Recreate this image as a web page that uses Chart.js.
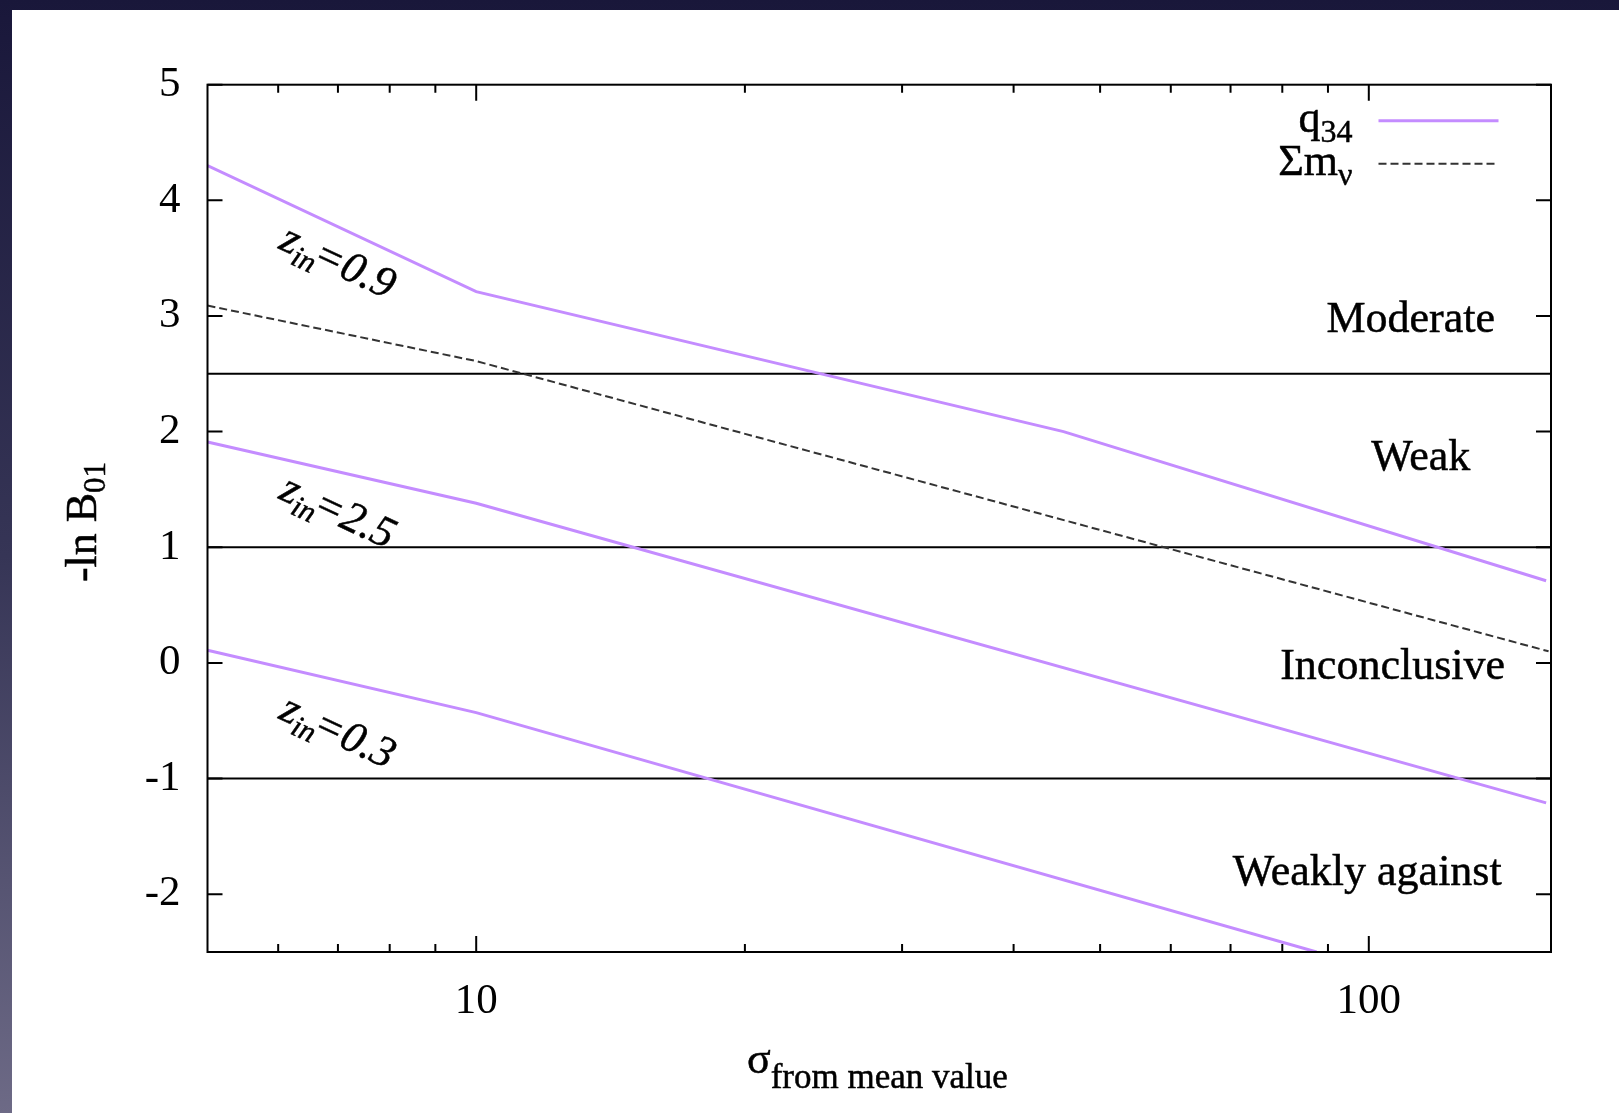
<!DOCTYPE html>
<html>
<head>
<meta charset="utf-8">
<script src="https://cdn.jsdelivr.net/npm/chart.js@4.4.1/dist/chart.umd.min.js"></script>
<style>
  html, body { margin: 0; padding: 0; }
  body {
    width: 1619px; height: 1113px; overflow: hidden; position: relative;
    background: linear-gradient(to bottom, #19173a 0%, #363556 50%, #6d6a86 100%);
  }
  #wrap { position: absolute; left: 12px; top: 10px; width: 1607px; height: 1103px; background: #fff; }
</style>
</head>
<body>
<div id="wrap"><canvas id="chart"></canvas></div>
<script>
// q34 curves, one per z_in
const z09X = [5, 10, 45.5, 158];
const z09Y = [4.30, 3.21, 2.00, 0.71];
const z25X = [5, 10, 158];
const z25Y = [1.91, 1.38, -1.21];
const z03X = [5, 10, 87.4];
const z03Y = [0.11, -0.43, -2.5];
// sum of neutrino masses
const mnuX = [5, 10, 159];
const mnuY = [3.09, 2.61, 0.10];
// Jeffreys scale boundaries
const thresholds = [2.5, 1, -1];

const yTicks = [-2, -1, 0, 1, 2, 3, 4, 5];
const xTicks = [10, 100];
const xMinor = [6, 7, 8, 9, 20, 30, 40, 50, 60, 70, 80, 90];

const regionNames = ['Moderate', 'Weak', 'Inconclusive', 'Weakly against'];
const zNames = ['0.9', '2.5', '0.3'];

// where the texts sit (x value of right edge / centre, y value of baseline / centre)
const regionPos = [[138.5, 2.865], [129.9, 1.671], [142.1, -0.139], [140.9, -1.917]];
const zPos = [[7.0, 3.468], [7.0, 1.307], [7.0, -0.595]];

const FONT = "'Liberation Serif', 'Times New Roman', serif";
const purple = '#c48cff';

function pts(xs, ys) {
  return xs.map(function(x, i) { return {x: x, y: ys[i]}; });
}

function font(p) {
  return (p.italic ? 'italic ' : '') + p.size + 'px ' + FONT;
}

// draws text made of pieces (for subscripts)
function drawParts(ctx, parts, x, y, align) {
  let w = 0;
  parts.forEach(function(p) {
    ctx.font = font(p);
    p.w = ctx.measureText(p.t).width + (p.gap || 0);
    w += p.w;
  });
  let cx = x;
  if (align === 'right') cx = x - w;
  if (align === 'center') cx = x - w / 2;
  ctx.textAlign = 'left';
  ctx.textBaseline = 'alphabetic';
  ctx.lineWidth = 0.5;
  ctx.strokeStyle = ctx.fillStyle;
  parts.forEach(function(p) {
    ctx.font = font(p);
    ctx.fillText(p.t, cx, y + (p.dy || 0));
    ctx.strokeText(p.t, cx, y + (p.dy || 0));
    cx += p.w;
  });
}

const decor = {
  id: 'decor',
  afterDraw: function(chart) {
    const ctx = chart.ctx;
    const a = chart.chartArea;
    const xs = chart.scales.x, ys = chart.scales.y;
    ctx.save();
    ctx.strokeStyle = '#000';
    ctx.fillStyle = '#000';

    // tick marks, inward, on all four sides
    ctx.lineWidth = 2;
    ctx.beginPath();
    yTicks.forEach(function(v) {
      const py = ys.getPixelForValue(v);
      ctx.moveTo(a.left, py); ctx.lineTo(a.left + 15, py);
      ctx.moveTo(a.right, py); ctx.lineTo(a.right - 15, py);
    });
    xTicks.forEach(function(v) {
      const px = xs.getPixelForValue(v);
      ctx.moveTo(px, a.bottom); ctx.lineTo(px, a.bottom - 16);
      ctx.moveTo(px, a.top); ctx.lineTo(px, a.top + 16);
    });
    xMinor.forEach(function(v) {
      const px = xs.getPixelForValue(v);
      ctx.moveTo(px, a.bottom); ctx.lineTo(px, a.bottom - 8);
      ctx.moveTo(px, a.top); ctx.lineTo(px, a.top + 8);
    });
    ctx.stroke();

    // frame
    ctx.lineWidth = 2;
    ctx.strokeRect(a.left, a.top, a.right - a.left, a.bottom - a.top);

    // region names
    regionNames.forEach(function(name, i) {
      const px = xs.getPixelForValue(regionPos[i][0]);
      const py = ys.getPixelForValue(regionPos[i][1]);
      drawParts(ctx, [{t: name, size: 44}], px, py, 'right');
    });

    // z_in labels, tilted along the curves
    zNames.forEach(function(z, i) {
      const px = xs.getPixelForValue(zPos[i][0]);
      const py = ys.getPixelForValue(zPos[i][1]);
      ctx.save();
      ctx.translate(px, py);
      ctx.rotate(25 * Math.PI / 180);
      drawParts(ctx, [
        {t: 'z', size: 44, italic: true},
        {t: 'in', size: 30, italic: true, dy: 9, gap: -4},
        {t: '=' + z, size: 44, italic: true}
      ], 0, 13, 'center');
      ctx.restore();
    });

    // legend
    const lx = a.left + 1145, lx1 = lx + 26, lx2 = lx + 146;
    drawParts(ctx, [{t: 'q', size: 44}, {t: '34', size: 32, dy: 10}], lx, a.top + 47, 'right');
    drawParts(ctx, [{t: '\u03A3m', size: 44}, {t: '\u03BD', size: 32, dy: 10}], lx, a.top + 90, 'right');
    ctx.lineWidth = 3;
    ctx.strokeStyle = purple;
    ctx.beginPath(); ctx.moveTo(lx1, a.top + 36); ctx.lineTo(lx2, a.top + 36); ctx.stroke();
    ctx.lineWidth = 2;
    ctx.strokeStyle = '#333';
    ctx.setLineDash([8, 4]);
    ctx.beginPath(); ctx.moveTo(lx1, a.top + 79); ctx.lineTo(lx2, a.top + 79); ctx.stroke();
    ctx.setLineDash([]);

    // axis titles
    ctx.fillStyle = '#000';
    drawParts(ctx, [{t: '\u03C3', size: 44}, {t: 'from mean value', size: 35, dy: 15}], 735, 1063, 'left');
    ctx.save();
    ctx.translate(71, 512);
    ctx.rotate(-Math.PI / 2);
    drawParts(ctx, [{t: '-ln B', size: 44}, {t: '01', size: 31, dy: 9}], 0, 13, 'center');
    ctx.restore();

    ctx.restore();
  }
};

const datasets = [
  {data: pts(z09X, z09Y), borderColor: purple, borderWidth: 3},
  {data: pts(z25X, z25Y), borderColor: purple, borderWidth: 3},
  {data: pts(z03X, z03Y), borderColor: purple, borderWidth: 3},
  {data: pts(mnuX, mnuY), borderColor: '#333', borderWidth: 2, borderDash: [8, 4]}
];
thresholds.forEach(function(t) {
  datasets.push({data: [{x: 5, y: t}, {x: 160, y: t}], borderColor: '#000', borderWidth: 2});
});
datasets.forEach(function(d) {
  d.pointRadius = 0;
  d.fill = false;
  d.tension = 0;
});

const chart = new Chart(document.getElementById('chart'), {
  type: 'line',
  data: {datasets: datasets},
  plugins: [decor],
  options: {
    responsive: true,
    maintainAspectRatio: false,
    animation: false,
    events: [],
    layout: {padding: {top: 74.7, right: 68, left: 0, bottom: 0}},
    plugins: {legend: {display: false}, tooltip: {enabled: false}},
    scales: {
      x: {
        type: 'logarithmic',
        min: 5,
        max: 160,
        grid: {display: false, drawTicks: false},
        border: {display: false},
        afterBuildTicks: function(s) { s.ticks = xTicks.map(function(v) { return {value: v}; }); },
        afterFit: function(s) { s.height = 161; },
        ticks: {
          autoSkip: false, maxRotation: 0, padding: 24, color: '#000',
          font: {family: FONT, size: 43},
          callback: function(v) { return String(v); }
        }
      },
      y: {
        type: 'linear',
        min: -2.5,
        max: 5,
        grid: {display: false, drawTicks: false},
        border: {display: false},
        afterBuildTicks: function(s) { s.ticks = yTicks.map(function(v) { return {value: v}; }); },
        afterFit: function(s) { s.width = 195.5; },
        ticks: {
          padding: 27, color: '#000',
          font: {family: FONT, size: 43},
          callback: function(v) { return String(v); }
        }
      }
    }
  }
});
</script>
</body>
</html>
